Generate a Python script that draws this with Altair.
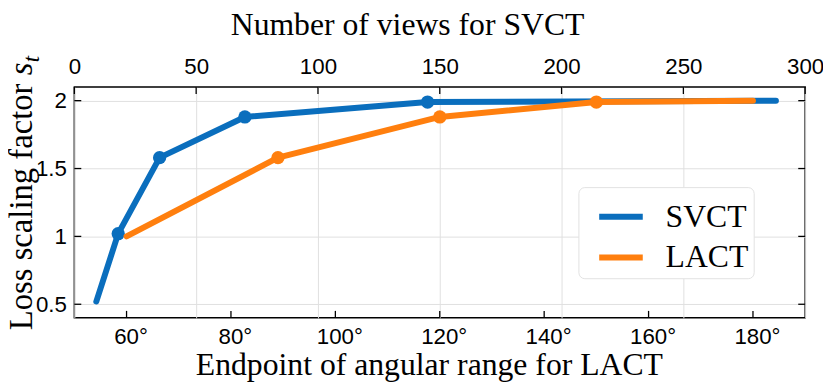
import altair as alt
import pandas as pd

# ---- data ----
svct_views = [9, 18, 35, 70, 145, 288]
svct_scale = [0.52, 1.02, 1.58, 1.88, 1.99, 2.0]
svct_marked = [False, True, True, True, True, False]

lact_angle = [60, 89, 120, 150, 180]
lact_scale = [1.0, 1.58, 1.88, 1.99, 2.0]
lact_marked = [False, True, True, True, False]

top_ticks = [0, 50, 100, 150, 200, 250, 300]
bottom_ticks = [60, 80, 100, 120, 140, 160, 180]
y_ticks = [0.5, 1, 1.5, 2]

series_names = ["SVCT", "LACT"]

BLUE = "#1f77b4"
BLUE_MK = "#0a6ebd"
ORANGE = "#ff7f0e"
W, H = 738, 233
TICK = 7
SERIF = "Liberation Serif"
SANS = "Liberation Sans"
LABEL_SIZE = 22.5
TITLE_SIZE = 32

svct = pd.DataFrame({"v": svct_views, "s": svct_scale, "m": svct_marked, "series": "SVCT"})
lact = pd.DataFrame({"v": lact_angle, "s": lact_scale, "m": lact_marked, "series": "LACT"})
top_df = pd.DataFrame({"v": top_ticks})
bot_df = pd.DataFrame({"v": bottom_ticks})
y_df = pd.DataFrame({"s": y_ticks})

color = alt.Color(
    "series:N",
    scale=alt.Scale(domain=series_names, range=[BLUE_MK, ORANGE]),
    legend=alt.Legend(
        title=None, orient="none", legendX=509, legendY=101,
        symbolType="stroke", symbolStrokeWidth=6, symbolSize=1936, symbolOffset=13,
        labelFont=SERIF, labelFontSize=32, labelColor="black", labelOffset=20,
        labelExpr="datum.label + '  '",
        padding=5, rowPadding=-5, fillColor="white", strokeColor="#e2e2e2",
        cornerRadius=6, labelLimit=300,
    ),
)

Y = alt.Y(
    "s:Q",
    scale=alt.Scale(domain=[0.4, 2.1], nice=False, zero=False),
    axis=alt.Axis(
        values=y_ticks, labelExpr="datum.value + ''", ticks=False, domain=False,
        grid=True, gridColor="#e0e0e0", gridWidth=1,
        labelFont=SANS, labelFontSize=LABEL_SIZE, labelColor="black", labelPadding=8,
        title="Loss scaling factor", titleFont=SERIF, titleFontSize=33,
        titleFontWeight="normal", titleColor="black", titleAngle=270,
        titleX=-43, titleY=245, titleAlign="left", titleBaseline="alphabetic",
    ),
)

X_top = alt.X(
    "v:Q",
    scale=alt.Scale(domain=[0, 300], nice=False, zero=False),
    axis=alt.Axis(
        orient="top", values=top_ticks, ticks=False, domain=False,
        grid=True, gridColor="#e0e0e0", gridWidth=1,
        labelFont=SANS, labelFontSize=LABEL_SIZE, labelColor="black", labelPadding=9,
        labelFlush=False, labelOverlap=False,
        title="Number of views for SVCT", titleFont=SERIF, titleFontSize=TITLE_SIZE,
        titleFontWeight="normal", titleColor="black",
        titleX=336, titleY=-53, titleAlign="center", titleBaseline="alphabetic",
    ),
)

X_bot = alt.X(
    "v:Q",
    scale=alt.Scale(domain=[50, 190], nice=False, zero=False),
    axis=alt.Axis(
        orient="bottom", values=bottom_ticks, ticks=False, domain=False, grid=False,
        labelExpr="datum.value + '°'", labelOffset=4,
        labelFont=SANS, labelFontSize=LABEL_SIZE, labelColor="black", labelPadding=8,
        labelFlush=False, labelOverlap=False,
        title="Endpoint of angular range for LACT", titleFont=SERIF, titleFontSize=TITLE_SIZE,
        titleFontWeight="normal", titleColor="black",
        titleX=358, titleY=57, titleAlign="center", titleBaseline="alphabetic",
    ),
)

# --- SVCT (top axis) ---
svct_line = alt.Chart(svct).mark_line(strokeWidth=6, strokeCap="round", strokeJoin="round", color=BLUE).encode(
    x=X_top, y=Y, color=color)
svct_pts = alt.Chart(svct).mark_circle(size=180, opacity=1, color=BLUE_MK).encode(
    x=X_top, y=Y).transform_filter("datum.m")
top_tk = alt.Chart(top_df).mark_rule(color="black", strokeWidth=1.3).encode(
    x=X_top, y=alt.value(0), y2=alt.value(TICK))
y_tk_l = alt.Chart(y_df).mark_rule(color="black", strokeWidth=1.3).encode(
    y=Y, x=alt.value(0), x2=alt.value(TICK))
y_tk_r = alt.Chart(y_df).mark_rule(color="black", strokeWidth=1.3).encode(
    y=Y, x=alt.value(W - TICK), x2=alt.value(W))
blue_layer = alt.layer(top_tk, y_tk_l, y_tk_r, svct_line, svct_pts)

# --- LACT (bottom axis) ---
lact_line = alt.Chart(lact).mark_line(strokeWidth=6, strokeCap="round", strokeJoin="round", color=ORANGE).encode(
    x=X_bot, y=Y, color=color)
lact_pts = alt.Chart(lact).mark_circle(size=180, opacity=1, color=ORANGE).encode(
    x=X_bot, y=Y).transform_filter("datum.m")
bot_tk = alt.Chart(bot_df).mark_rule(color="black", strokeWidth=1.3).encode(
    x=X_bot, y=alt.value(H - TICK), y2=alt.value(H))
orange_layer = alt.layer(bot_tk, lact_line, lact_pts)

# --- italic s with subscript t for the y title ---
s_txt = alt.Chart(pd.DataFrame({"t": ["s"]})).mark_text(
    text="s", font=SERIF, fontSize=33, fontStyle="italic", angle=270,
    align="left", baseline="alphabetic", color="black").encode(
    x=alt.value(-43), y=alt.value(-12))
t_txt = alt.Chart(pd.DataFrame({"t": ["t"]})).mark_text(
    text="t", font=SERIF, fontSize=23, fontStyle="italic", angle=270,
    align="left", baseline="alphabetic", color="black").encode(
    x=alt.value(-36), y=alt.value(-25))

chart = alt.layer(blue_layer, orange_layer, s_txt, t_txt).resolve_scale(
    x="independent"
).properties(
    width=W, height=H, autosize="none",
    padding={"left": 67, "top": 78, "right": 18, "bottom": 70},
).configure_view(stroke="black", strokeWidth=1.5)

chart.save("out.html", embed_options={"renderer": "svg", "actions": False})
